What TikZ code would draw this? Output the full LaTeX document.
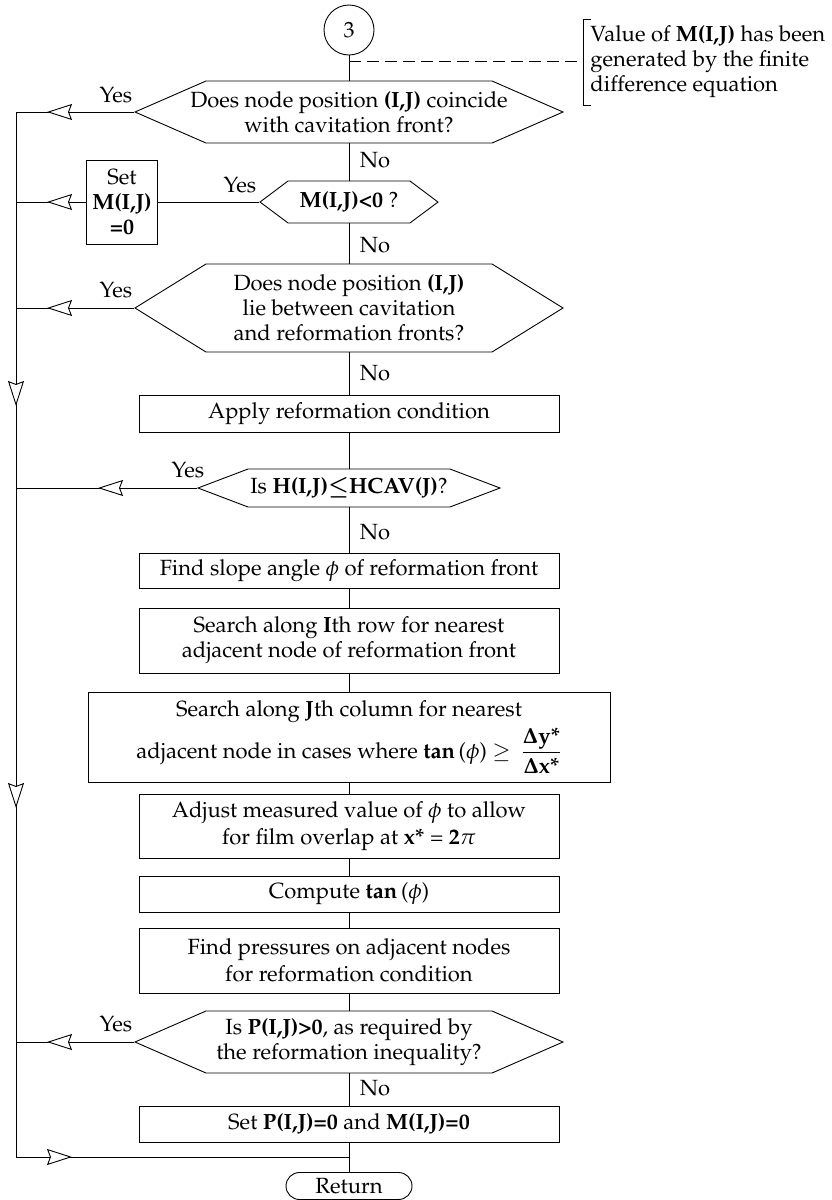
\documentclass[tikz,border=0pt]{standalone}
\usepackage{amsmath,amssymb}
\usepackage[T1]{fontenc}
\usepackage{mathpazo}
\usepackage{tikz}
\usetikzlibrary{arrows.meta,shapes.symbols,shapes.misc,decorations.markings}

\begin{document}
\begin{tikzpicture}[x=1pt,y=-1pt,line width=0.9pt,
  every node/.style={font=\fontsize{22}{25}\selectfont},
  openhead/.tip={Stealth[length=25pt,width=16pt,inset=3pt,fill=white]},
  procbox/.style={draw,rectangle,align=center,inner sep=0pt,minimum width=420},
  decide/.style={draw,signal,signal to=west and east,inner sep=0pt},
  tipat/.style={postaction={decorate},decoration={markings,mark=at position #1 with {\arrow{openhead}}}}]
\useasboundingbox (0,0) rectangle (831,1200);
% start connector and note
\node[draw,circle,minimum size=50,inner sep=0pt] (c3) at (349,30) {3};
\node[anchor=west,align=left,inner sep=0pt] (note) at (590,62) {Value of \textbf{M(I,J)} has been\\generated by the finite\\difference equation};
\draw (591,19) -- (583,19) -- (583,105) -- (591,105);
\coordinate (dash0) at (349,61);
\coordinate (dash1) at (583,61);
\draw[dash pattern=on 12pt off 6pt] (dash0) -- (dash1);
% main column
\node[decide,minimum width=428,minimum height=62,signal pointer angle=47.2] (d1) at (349,112) {};
\node[align=center] (d1t) at (d1) {Does node position \textbf{(I,J)} coincide\\with cavitation front?};
\node[decide,minimum width=178,minimum height=42,signal pointer angle=73.7] (d2) at (349,202) {};
\node (d2t) at (d2) {\textbf{M(I,J)<0} ?};
\node[draw,rectangle,align=center,inner sep=0pt,minimum width=71,minimum height=84] (setm) at (122,202) {Set\\\textbf{M(I,J)}\\\textbf{=0}};
\node[decide,minimum width=428,minimum height=88,signal pointer angle=63.6] (d3) at (349,308) {};
\node[align=center] (d3t) at (d3) {Does node position \textbf{(I,J)}\\lie between cavitation\\and reformation fronts?};
\node[procbox,minimum height=37] (apply) at (349,413.5) {Apply reformation condition};
\node[decide,minimum width=302,minimum height=38,signal pointer angle=41.6] (d4) at (349,488) {};
\node (d4t) at (d4) {Is \textbf{H(I,J)$\boldsymbol{\leq}$HCAV(J)}?};
\node[procbox,minimum height=35] (slope) at (349,570.5) {Find slope angle $\phi$ of reformation front};
\node[procbox,minimum height=65] (row) at (349,640.5) {Search along \textbf{I}th row for nearest\\adjacent node of reformation front};
\node[procbox,minimum width=522,minimum height=90] (col) at (349,737) {Search along \textbf{J}th column for nearest\\[4pt]adjacent node in cases where \textbf{tan}\,($\phi$) $\geq$\ \ $\dfrac{\mathbf{\Delta}\textbf{y*}}{\mathbf{\Delta}\textbf{x*}}$};
\node[procbox,minimum height=64] (adjust) at (349,826) {Adjust measured value of $\phi$ to allow\\[2pt]for film overlap at \textbf{x*} = \textbf{2}$\pi$};
\node[procbox,minimum height=36] (comp) at (349,894) {Compute \textbf{tan}\,($\phi$)};
\node[procbox,minimum height=65] (press) at (349,960.5) {Find pressures on adjacent nodes\\[2pt]for reformation condition};
\node[decide,minimum width=428,minimum height=62,signal pointer angle=47.2] (d5) at (349,1042) {};
\node[align=center] (d5t) at (d5) {Is \textbf{P(I,J)>0}, as required by\\the reformation inequality?};
\node[procbox,minimum height=36] (setp) at (349,1124) {Set \textbf{P(I,J)=0} and \textbf{M(I,J)=0}};
\node[draw,rounded rectangle,minimum width=126,minimum height=27,inner sep=0pt] (ret) at (349,1186) {Return};
% yes / no labels
\node (y1) at (116,95) {Yes};
\node (y2) at (240,185) {Yes};
\node (y3) at (116,290) {Yes};
\node (y4) at (188,470) {Yes};
\node (y5) at (116,1024) {Yes};
\node (n1) at (375,160) {No};
\node (n2) at (375,245) {No};
\node (n3) at (375,373) {No};
\node (n4) at (375,532) {No};
\node (n5) at (375,1088) {No};
% return line on the left
\coordinate (l1) at (16,112);
\coordinate (l2) at (16,202);
\coordinate (l3) at (16,308);
\coordinate (l4) at (16,488);
\coordinate (l5) at (16,1042);
\coordinate (lb) at (16,1157);
\coordinate (jb) at (349,1157);
% connectors
\draw (c3) -- (d1);
\draw (d1) -- (d2);
\draw (d2) -- (d3);
\draw (d3) -- (apply);
\draw (apply) -- (d4);
\draw (d4) -- (slope);
\draw (slope) -- (row);
\draw (row) -- (col);
\draw (col) -- (adjust);
\draw (adjust) -- (comp);
\draw (comp) -- (press);
\draw (press) -- (d5);
\draw (d5) -- (setp);
\draw (setp) -- (ret);
\draw[tipat=-31pt] (d1.west) -- (l1);
\draw (d2.west) -- (setm.east);
\draw[tipat=-31pt] (setm.west) -- (l2);
\draw[tipat=-31pt] (d3.west) -- (l3);
\draw[tipat=-82pt] (d4.west) -- (l4);
\draw[tipat=-31pt] (d5.west) -- (l5);
\draw[postaction={decorate},decoration={markings,
  mark=at position 294pt with {\arrow{openhead}},
  mark=at position 696pt with {\arrow{openhead}}}] (l1) -- (lb);
\draw[tipat=56pt] (lb) -- (jb);
\end{tikzpicture}
\end{document}
